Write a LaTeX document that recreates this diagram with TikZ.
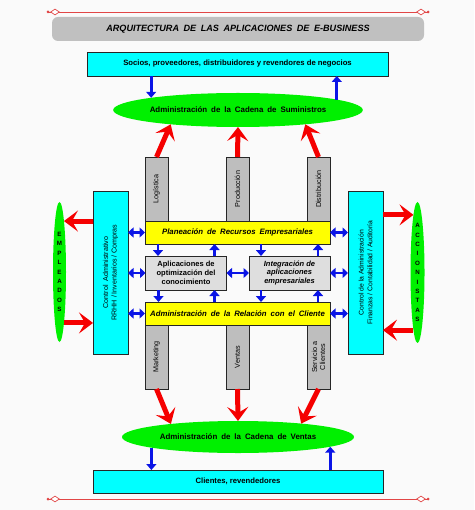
\documentclass[tikz,border=0pt]{standalone}
\usepackage{fontspec}
\setmainfont{Liberation Sans}
\usetikzlibrary{arrows.meta,shapes.geometric}
\definecolor{bgc}{RGB}{250,250,250}
\definecolor{cyanc}{RGB}{0,255,255}
\definecolor{limec}{RGB}{0,240,0}
\definecolor{yellc}{RGB}{255,255,0}
\definecolor{colg}{RGB}{190,190,190}
\definecolor{boxg}{RGB}{222,222,222}
\definecolor{titg}{RGB}{192,192,192}
\definecolor{bluec}{RGB}{10,20,230}
\definecolor{redc}{RGB}{245,0,0}
\definecolor{linec}{RGB}{225,70,70}
\newcommand\myfs[2]{\fontsize{#1}{#2}\selectfont}
\newcommand\wide{\spaceskip=0.5em plus 0.1em\relax}
\begin{document}
\begin{tikzpicture}[x=1pt,y=-1pt,
  frame/.style={draw=black!85, line width=0.8pt, inner sep=1pt, align=center, outer sep=0pt},
  cyanbox/.style={frame, fill=cyanc},
  yellbar/.style={frame, fill=yellc, minimum width=185pt, minimum height=23pt, font=\myfs{7.8}{8.5}\bfseries\itshape\wide},
  colbox/.style={frame, fill=colg, minimum width=23pt, minimum height=64pt, inner sep=0pt},
  coltext/.style={rotate=90, align=center, font=\myfs{7.2}{8}},
  graybox/.style={frame, fill=boxg, minimum width=81pt, minimum height=34pt, font=\myfs{7.5}{8.8}\bfseries},
  oval/.style={ellipse, fill=limec, draw=none, inner sep=0pt, outer sep=0pt},
  vert/.style={align=center, font=\myfs{6.2}{9.4}\bfseries},
  bluearr/.style={draw=bluec, line width=2.8pt, -{Triangle[length=6pt,width=10pt]}},
  bluedbl/.style={draw=bluec, line width=2.8pt, {Triangle[length=5.5pt,width=10pt]}-{Triangle[length=5.5pt,width=10pt]}},
  redarr/.style={draw=redc, line width=5pt, -{Stealth[length=14pt,width=21pt,inset=6pt]}},
  orn/.style={draw=linec, line width=0.9pt},
  ornd/.style={diamond, draw=linec, fill=white, line width=0.7pt, minimum width=9pt, minimum height=6pt, inner sep=0pt},
]
\useasboundingbox (0,0) rectangle (474,510);
\fill[bgc] (0,0) rectangle (474,510);

% ornamental lines
\coordinate (tl) at (48,12); \coordinate (tr) at (428,12);
\coordinate (bl) at (48,499); \coordinate (br) at (428,499);
\draw[orn] (tl) -- (tr);
\draw[orn] (bl) -- (br);
\fill[linec] (tl) circle (1.5pt); \fill[linec] (tr) circle (1.5pt);
\fill[linec] (bl) circle (1.5pt); \fill[linec] (br) circle (1.5pt);
\node[ornd] (d1) at (55,12) {}; \node[ornd] (d2) at (421,12) {};
\node[ornd] (d3) at (55,499) {}; \node[ornd] (d4) at (421,499) {};

% title
\node[fill=titg, rounded corners=6pt, minimum width=372pt, minimum height=24pt, inner sep=0pt,
  font=\myfs{9.1}{10}\bfseries\itshape\wide] (title) at (238,29) {ARQUITECTURA DE LAS APLICACIONES DE E-BUSINESS};

% top box and supply chain
\node[cyanbox, minimum width=301pt, minimum height=24pt, font=\myfs{7.7}{8.5}\bfseries] (socios) at (237.5,64)
  {Socios, proveedores, distribuidores y revendores de negocios};
\node[oval, minimum width=232pt, minimum height=34pt, font=\myfs{7.9}{8.5}\bfseries\wide] (sup) at (238,110)
  {Administración de la Cadena de Suministros};

% upper columns
\node[colbox] (log) at (156.5,189) {};
\node[colbox] (prod) at (237.5,189) {};
\node[colbox] (dist) at (318.5,189) {};
\node[coltext] at (log) {Logística};
\node[coltext] at (prod) {Producción};
\node[coltext] at (dist) {Distribución};

% central bars and boxes
\node[yellbar] (erp) at (237.5,232.5) {Planeación de Recursos Empresariales};
\node[graybox] (opt) at (186,273) {Aplicaciones de\\optimización del\\conocimiento};
\node[graybox, font=\myfs{7.5}{8.8}\bfseries\itshape] (integ) at (289.5,273) {Integración de\\aplicaciones\\empresariales};
\node[yellbar] (crm) at (237.5,313.5) {Administración de la Relación con el Cliente};

% lower columns
\node[colbox] (mkt) at (156.5,357) {};
\node[colbox] (ven) at (237.5,357) {};
\node[colbox] (serv) at (318.5,357) {};
\node[coltext] at (mkt) {Marketing};
\node[coltext] at (ven) {Ventas};
\node[coltext] at (serv) {Servicio a\\Clientes};

% side boxes
\node[cyanbox, minimum width=35pt, minimum height=163pt] (lbox) at (110.5,272.5) {};
\node[cyanbox, minimum width=35pt, minimum height=163pt] (rbox) at (365.5,272.5) {};
\node[rotate=90, align=center, font=\myfs{7.1}{8.6}] at (lbox) {Control~ Administrativo\\RRHH / Inventarios / Compras};
\node[rotate=90, align=center, font=\myfs{6.8}{8.6}] at (rbox) {Control de la Administración\\Finanzas / Contabilidad / Auditoría};

% side ovals
\node[oval, minimum width=13pt, minimum height=140pt] (emp) at (59.5,272) {};
\node[oval, minimum width=14pt, minimum height=141pt] (acc) at (417.5,272.5) {};
\node[vert] at (emp) {E\\M\\P\\L\\E\\A\\D\\O\\S};
\node[vert] at (acc) {A\\C\\C\\I\\O\\N\\I\\S\\T\\A\\S};

% sales chain and clients
\node[oval, minimum width=232pt, minimum height=32pt, font=\myfs{7.9}{8.5}\bfseries\wide] (ventas) at (238,437)
  {Administración de la Cadena de Ventas};
\node[cyanbox, minimum width=290pt, minimum height=23pt, font=\myfs{7.7}{8.5}\bfseries] (cli) at (238,481.5)
  {Clientes, revendedores};

% blue arrows top/bottom
\draw[bluearr] (socios.south -| sup.172.7) -- (sup.172.7);
\draw[bluearr] (sup.6.8) -- (socios.south -| sup.6.8);
\draw[bluearr] (ventas.187) -- (cli.north -| ventas.187);
\draw[bluearr] (cli.north -| ventas.-6.4) -- (ventas.-6.4);

% small blue arrows between bars and boxes
\draw[bluearr] ([xshift=13pt]erp.south west) -- ([xshift=13pt]erp.south west |- opt.north);
\draw[bluearr] ([xshift=-12pt]opt.north east) -- ([xshift=-12pt]opt.north east |- erp.south);
\draw[bluearr] ([xshift=12pt]integ.north west |- erp.south) -- ([xshift=12pt]integ.north west);
\draw[bluearr] ([xshift=-12pt]integ.north east) -- ([xshift=-12pt]integ.north east |- erp.south);
\draw[bluearr] ([xshift=13pt]opt.south west) -- ([xshift=13pt]opt.south west |- crm.north);
\draw[bluearr] ([xshift=-12pt]opt.south east |- crm.north) -- ([xshift=-12pt]opt.south east);
\draw[bluearr] ([xshift=12pt]integ.south west) -- ([xshift=12pt]integ.south west |- crm.north);
\draw[bluearr] ([xshift=-12pt]integ.south east |- crm.north) -- ([xshift=-12pt]integ.south east);

% double arrows
\draw[bluedbl] (lbox.east |- erp.west) -- (erp.west);
\draw[bluedbl] (lbox.east |- opt.west) -- (opt.west);
\draw[bluedbl] (lbox.east |- crm.west) -- (crm.west);
\draw[bluedbl] (erp.east) -- (rbox.west |- erp.east);
\draw[bluedbl] (integ.east) -- (rbox.west |- integ.east);
\draw[bluedbl] (crm.east) -- (rbox.west |- crm.east);
\draw[bluedbl] (opt.east) -- (integ.west);

% red arrows
\draw[redarr] (log.north) -- (sup.192);
\draw[redarr] (prod.north) -- (sup.south);
\draw[redarr] (dist.north) -- (sup.-12.2);
\draw[redarr] (mkt.south) -- (ventas.169.9);
\draw[redarr] (ven.south) -- (ventas.north);
\draw[redarr] (serv.south) -- (ventas.12.85);
\draw[redarr] (lbox.west |- emp.85.2) -- (emp.85.2);
\draw[redarr] (emp.-85.2) -- (lbox.west |- emp.-85.2);
\draw[redarr] (rbox.east |- acc.94) -- (acc.94);
\draw[redarr] (acc.-94) -- (rbox.east |- acc.-94);
\end{tikzpicture}
\end{document}
